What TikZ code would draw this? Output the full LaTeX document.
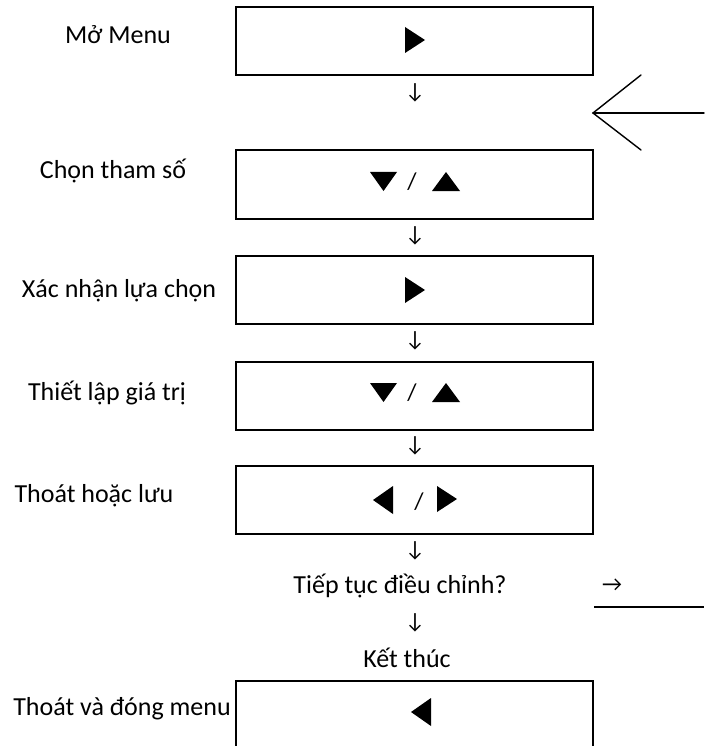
\documentclass[tikz,border=0pt]{standalone}
\usepackage{fontspec}
\setmainfont{Carlito}
\begin{document}
\begin{tikzpicture}[x=1pt,y=-1pt,
  box/.style={draw=black, line width=2pt, minimum width=357pt, minimum height=68pt,
    inner sep=0pt, fill=none},
  lbl/.style={font=\fontsize{26}{30}\selectfont, inner sep=0pt, anchor=center},
  dnarrow/.style={font=\fontsize{22}{26}\selectfont, inner sep=0pt},
  rarrow/.style={font=\fontsize{22}{26}\selectfont, inner sep=0pt},
  slash/.style={font=\fontsize{24}{28}\selectfont, inner sep=0pt},
  pointer/.style={line width=1.4pt, line cap=round},
  tri/.style={fill=black, draw=none},
  pics/tright/.style={code={\fill[tri] (-10,-13) -- (10,0) -- (-10,13) -- cycle;}},
  pics/tleft/.style={code={\fill[tri] (10,-14) -- (-10,0) -- (10,14) -- cycle;}},
  pics/tdown/.style={code={\fill[tri] (-13.5,-9.5) -- (13.5,-9.5) -- (0,9.5) -- cycle;}},
  pics/tup/.style={code={\fill[tri] (-14,9.5) -- (14,9.5) -- (0,-9.5) -- cycle;}},
]
\useasboundingbox[fill=white] (0,0) rectangle (704,746);

% key boxes
\node[box] (b1) at (414.5,41) {};
\node[box] (b2) at (414.5,184.5) {};
\node[box] (b3) at (414.5,290) {};
\node[box] (b4) at (414.5,396) {};
\node[box] (b5) at (414.5,500) {};
\node[box, minimum height=90pt] (b6) at (414.5,726) {};

% key symbols
\pic at (415,40) {tright};
\pic at (383.5,181.5) {tdown};
\node[slash] (s2) at (412,182) {/};
\pic at (446,181.5) {tup};
\pic at (415,290) {tright};
\pic at (383.5,392.5) {tdown};
\node[slash] (s4) at (412,393) {/};
\pic at (446,392.5) {tup};
\pic at (383,500) {tleft};
\node[slash] (s5) at (419,502) {/};
\pic at (447,499) {tright};
\pic at (421,712) {tleft};

% step labels
\node[lbl] (l1) at (118,35) {Mở Menu};
\node[lbl] (l2) at (113,171) {Chọn tham số};
\node[lbl] (l3) at (119,291) {Xác nhận lựa chọn};
\node[lbl] (l4) at (107,393) {Thiết lập giá trị};
\node[lbl] (l5) at (94,496) {Thoát hoặc lưu};
\node[lbl] (l6) at (400,586) {Tiếp tục điều chỉnh?};
\node[lbl] (l7) at (407,658) {Kết thúc};
\node[lbl] (l8) at (122,709) {Thoát và đóng menu};

% flow arrows between steps
\node[dnarrow] (d1) at (415,93) {↓};
\node[dnarrow] (d2) at (415,236) {↓};
\node[dnarrow] (d3) at (415,341) {↓};
\node[dnarrow] (d4) at (415,446) {↓};
\node[dnarrow] (d5) at (415,551) {↓};
\node[dnarrow] (d6) at (415,623) {↓};
\node[rarrow] (r1) at (612,585) {→};

% loop back to parameter selection
\coordinate (loopin) at (704,113);
\coordinate (looptip) at (593,113);
\coordinate (headup) at (641,75);
\coordinate (headdn) at (641,150);
\draw[pointer] (loopin) -- (looptip);
\draw[pointer] (headup) -- (looptip) -- (headdn);

% continue line
\coordinate (contA) at (594,607);
\coordinate (contB) at (704,607);
\draw[line width=2pt] (contA) -- (contB);
\end{tikzpicture}
\end{document}
